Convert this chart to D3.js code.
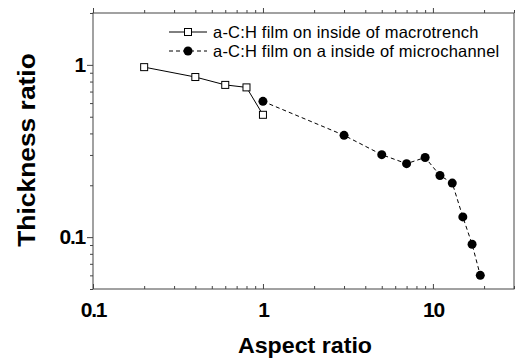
<!DOCTYPE html>
<html>
<head>
<meta charset="utf-8">
<script src="https://cdn.jsdelivr.net/npm/d3@7"></script>
<style>
  body { margin: 0; background: #fff; }
  text { font-family: "Liberation Sans", Arial, sans-serif; }
</style>
</head>
<body>
<div id="chart"></div>
<script>
// data
var trenchX = [0.2, 0.4, 0.6, 0.8, 1.0];
var trenchY = [0.97, 0.85, 0.765, 0.74, 0.513];
var channelX = [1, 3, 5, 7, 9, 11, 13, 15, 17, 19];
var channelY = [0.614, 0.39, 0.301, 0.267, 0.29, 0.228, 0.206, 0.131, 0.091, 0.06];
var seriesNames = ["a-C:H film on inside of macrotrench", "a-C:H film on a inside of microchannel"];
var xTicks = [0.1, 1, 10];
var yTicks = [0.1, 1];

// svg container
var svgWidth = 515;
var svgHeight = 362;
var margin = { top: 13, right: 1, bottom: 73, left: 93 };
var chartWidth = svgWidth - margin.left - margin.right;
var chartHeight = svgHeight - margin.top - margin.bottom;

var svg = d3.select("#chart").append("svg")
  .attr("width", svgWidth)
  .attr("height", svgHeight);

var chartGroup = svg.append("g")
  .attr("transform", `translate(${margin.left}, ${margin.top})`);

var xScale = d3.scaleLog().domain([0.1, 30]).range([0, chartWidth]);
var yScale = d3.scaleLog().domain([0.05, 2]).range([chartHeight, 0]);

// minor tick values
var xMinor = xScale.ticks().filter(d => xTicks.indexOf(d) < 0);
var yMinor = yScale.ticks().filter(d => yTicks.indexOf(d) < 0);

// frame
chartGroup.append("rect")
  .attr("width", chartWidth)
  .attr("height", chartHeight)
  .attr("fill", "none")
  .attr("stroke", "#444")
  .attr("stroke-width", 1);

// bottom axis, ticks point inward
var bottomAxis = chartGroup.append("g").attr("transform", `translate(0, ${chartHeight})`);
bottomAxis.call(d3.axisBottom(xScale).tickValues(xTicks).tickSize(-5).tickFormat(d3.format("")).tickPadding(13));
bottomAxis.append("g").call(d3.axisBottom(xScale).tickValues(xMinor).tickSize(-3).tickFormat(""));

// top axis, ticks outward
var topAxis = chartGroup.append("g");
topAxis.call(d3.axisTop(xScale).tickValues(xTicks).tickSize(5).tickFormat(""));
topAxis.append("g").call(d3.axisTop(xScale).tickValues(xMinor).tickSize(3).tickFormat(""));

// left axis, ticks outward
var leftAxis = chartGroup.append("g");
leftAxis.call(d3.axisLeft(yScale).tickValues(yTicks).tickSize(6).tickFormat(d3.format("")).tickPadding(2));
leftAxis.append("g").call(d3.axisLeft(yScale).tickValues(yMinor).tickSize(3).tickFormat(""));

chartGroup.selectAll(".domain").remove();
chartGroup.selectAll(".tick line").attr("stroke", "#444");
chartGroup.selectAll(".tick text")
  .style("font-size", "21px")
  .style("font-weight", "bold")
  .style("letter-spacing", "-1.2px")
  .attr("fill", "#000");

// axis titles
svg.append("text")
  .attr("transform", "translate(305, 353) scale(1.08, 1)")
  .attr("text-anchor", "middle")
  .style("font-size", "21.5px")
  .style("font-weight", "bold")
  .text("Aspect ratio");

svg.append("text")
  .attr("transform", "translate(35, 150) rotate(-90) scale(1.1, 1)")
  .attr("text-anchor", "middle")
  .style("font-size", "24px")
  .style("font-weight", "bold")
  .text("Thickness ratio");

// lines
var trench = trenchX.map((x, i) => [x, trenchY[i]]);
var channel = channelX.map((x, i) => [x, channelY[i]]);
var line = d3.line().x(d => xScale(d[0])).y(d => yScale(d[1]));

chartGroup.append("path")
  .attr("d", line(channel))
  .attr("fill", "none")
  .attr("stroke", "#000")
  .attr("stroke-width", 1)
  .attr("stroke-dasharray", "4,3");

chartGroup.append("path")
  .attr("d", line(trench))
  .attr("fill", "none")
  .attr("stroke", "#000")
  .attr("stroke-width", 1);

// markers
chartGroup.selectAll(".sq")
  .data(trench)
  .enter()
  .append("rect")
  .attr("x", d => xScale(d[0]) - 3.5)
  .attr("y", d => yScale(d[1]) - 3.5)
  .attr("width", 7)
  .attr("height", 7)
  .attr("fill", "#fff")
  .attr("stroke", "#000")
  .attr("stroke-width", 1);

chartGroup.selectAll(".dot")
  .data(channel)
  .enter()
  .append("circle")
  .attr("cx", d => xScale(d[0]))
  .attr("cy", d => yScale(d[1]))
  .attr("r", 4.5)
  .attr("fill", "#000");

// legend
var legend = svg.append("g");
var rows = [32, 51];
rows.forEach(function(y, i) {
  legend.append("line")
    .attr("x1", 169).attr("x2", 207)
    .attr("y1", y).attr("y2", y)
    .attr("stroke", "#000")
    .attr("stroke-dasharray", i === 0 ? null : "4,3");
  if (i === 0) {
    legend.append("rect")
      .attr("x", 184.5).attr("y", y - 3.5)
      .attr("width", 7).attr("height", 7)
      .attr("fill", "#fff").attr("stroke", "#000");
  } else {
    legend.append("circle")
      .attr("cx", 188).attr("cy", y).attr("r", 4.5).attr("fill", "#000");
  }
  legend.append("text")
    .attr("x", 213)
    .attr("y", y + 6)
    .style("font-size", "16.5px")
    .style("letter-spacing", "0.2px")
    .text(seriesNames[i]);
});
</script>
</body>
</html>
